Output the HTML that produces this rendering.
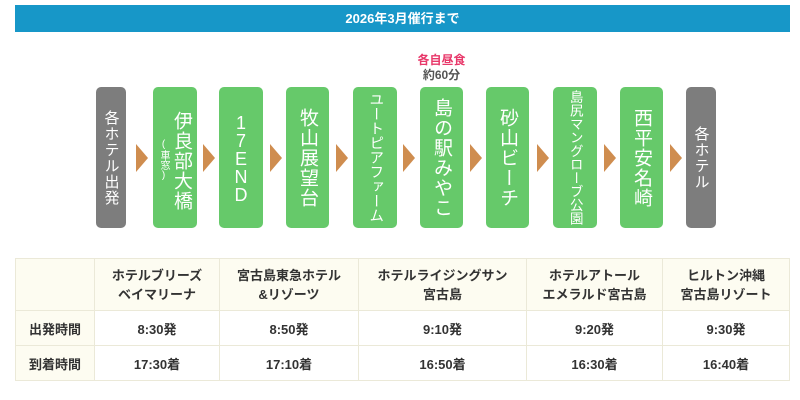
<!DOCTYPE html>
<html><head><meta charset="utf-8"><style>
body{margin:0;width:800px;height:400px;background:#fff;font-family:"Liberation Sans","Noto Sans CJK JP",sans-serif;position:relative;overflow:hidden}
.hd{position:absolute;left:15px;top:5px;width:775px;height:27px;background:#1797c8;color:#fff;font-weight:bold;font-size:13px;text-align:center;line-height:27px}
.b{position:absolute;top:87px;height:141px;border-radius:5px;background:#66c96a;color:#fff;display:flex;justify-content:center;align-items:center}
.g{background:#7d7d7d;width:30px;left:0}
.v{writing-mode:vertical-rl;text-orientation:upright;font-size:19px;line-height:1;letter-spacing:1px;white-space:nowrap}
.a{position:absolute;top:144px;width:0;height:0;border-top:14px solid transparent;border-bottom:14px solid transparent;border-left:12px solid #cf8d4f}
table{position:absolute;left:15px;top:258px;width:775px;border-collapse:collapse;font-size:13px;color:#333;font-weight:bold}
td{border:1px solid #ebe9d8;text-align:center;padding:0}
tr.h td{height:51px;background:#fdfcf1;font-weight:bold;line-height:19px}
tr.r td{height:34px}
td.f{background:#fdfcf1}
</style></head><body>
<div class="hd">2026年3月催行まで</div>
<div class="b g" style="left:96px"><span class="v" style="font-size:15px">各ホテル出発</span></div>
<div class="a" style="left:136px"></div>
<div class="b" style="left:153px;width:44px"><span class="v" style="position:absolute;right:6px;top:24px">伊良部大橋</span><span class="v" style="position:absolute;left:5px;top:52px;font-size:10px;letter-spacing:0">(車窓)</span></div>
<div class="a" style="left:203px"></div>
<div class="b" style="left:219px;width:44px"><span class="v" style="font-size:18px;letter-spacing:-2px;line-height:1">17END</span></div>
<div class="a" style="left:270px"></div>
<div class="b" style="left:286px;width:43px"><span class="v">牧山展望台</span></div>
<div class="a" style="left:336px"></div>
<div class="b" style="left:353px;width:44px"><span class="v" style="font-size:14.5px;letter-spacing:0">ユートピアファーム</span></div>
<div class="a" style="left:403px"></div>
<div style="position:absolute;left:405px;top:53px;width:73px;text-align:center;font-size:12px;font-weight:bold;color:#e8386a;line-height:14px">各自昼食</div>
<div style="position:absolute;left:405px;top:68px;width:73px;text-align:center;font-size:12px;font-weight:bold;color:#555;line-height:14px">約60分</div>
<div class="b" style="left:420px;width:43px"><span class="v">島の駅みやこ</span></div>
<div class="a" style="left:470px"></div>
<div class="b" style="left:486px;width:43px"><span class="v">砂山ビーチ</span></div>
<div class="a" style="left:537px"></div>
<div class="b" style="left:553px;width:44px"><span class="v" style="font-size:13.5px;letter-spacing:0">島尻マングローブ公園</span></div>
<div class="a" style="left:604px"></div>
<div class="b" style="left:620px;width:43px"><span class="v">西平安名崎</span></div>
<div class="a" style="left:670px"></div>
<div class="b g" style="left:686px"><span class="v" style="font-size:15px">各ホテル</span></div>
<table>
<tr class="h"><td class="f" style="width:78px"></td><td style="width:124px">ホテルブリーズ<br>ベイマリーナ</td><td style="width:138px">宮古島東急ホテル<br>&amp;リゾーツ</td><td style="width:167px">ホテルライジングサン<br>宮古島</td><td style="width:135px">ホテルアトール<br>エメラルド宮古島</td><td>ヒルトン沖縄<br>宮古島リゾート</td></tr>
<tr class="r"><td class="f">出発時間</td><td>8:30発</td><td>8:50発</td><td>9:10発</td><td>9:20発</td><td>9:30発</td></tr>
<tr class="r"><td class="f">到着時間</td><td>17:30着</td><td>17:10着</td><td>16:50着</td><td>16:30着</td><td>16:40着</td></tr>
</table>
</body></html>
